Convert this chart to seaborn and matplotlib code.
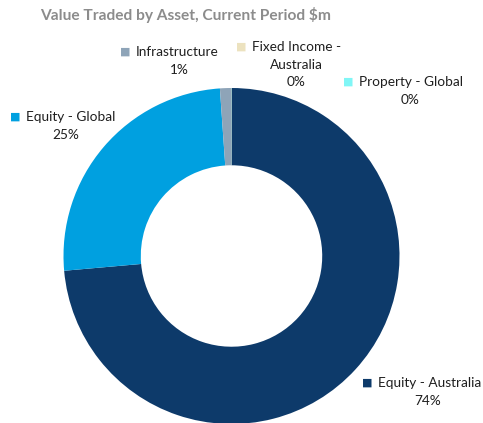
import matplotlib.pyplot as plt
import seaborn as sns

# data
assets = ["Equity - Australia", "Equity - Global", "Infrastructure",
          "Fixed Income - Australia", "Property - Global"]
shares = [73.6, 25.3, 1.05, 0.03, 0.02]
pct_labels = ["74%", "25%", "1%", "0%", "0%"]
colors = ["#0d3a6a", "#00a0e0", "#8ea4b8", "#ece2bf", "#80f6f6"]

sns.set_style("white")
plt.rcParams["font.family"] = ["Lato", "DejaVu Sans"]

W, H = 483, 423
fig = plt.figure(figsize=(W / 100, H / 100), dpi=100)

# donut centre (231, 256) px, radius 168 px
cx, cy, r = 231.5, 256, 168
ax = fig.add_axes([(cx - r) / W, (H - cy - r) / H, 2 * r / W, 2 * r / H])
ax.pie(shares, colors=colors, startangle=90, counterclock=False,
       radius=1, wedgeprops=dict(width=0.46, edgecolor="none"))
ax.set_xlim(-1, 1)
ax.set_ylim(-1, 1)
ax.set_aspect("equal")
ax.axis("off")


def px(x, y):
    return x / W, 1 - y / H


fig.text(*px(40, 15), "Value Traded by Asset, Current Period $m",
         fontsize=11.2, fontweight="bold", color="#8c8c8c", va="center", ha="left")

# label layout: (marker x, first line y, name lines, centre x of following lines)
label_pos = {
    "Equity - Australia": (367, 383, ["Equity - Australia"], 428),
    "Equity - Global": (15, 117, ["Equity - Global"], 66),
    "Infrastructure": (125, 52, ["Infrastructure"], 179),
    "Fixed Income - Australia": (241, 47, ["Fixed Income -", "Australia"], 296),
    "Property - Global": (348, 82, ["Property - Global"], 410),
}
line_h = 17.5
for name, pct, col in zip(assets, pct_labels, colors):
    mx, my, lines, ccx = label_pos[name]
    fig.text(*px(mx, my), "■", color=col, fontsize=8, ha="center", va="center",
             family=["DejaVu Sans"])
    fig.text(*px(mx + 11, my), lines[0], fontsize=9.8, color="#1f1f1f",
             ha="left", va="center")
    rest = lines[1:] + [pct]
    for i, t in enumerate(rest):
        fig.text(*px(ccx, my + line_h * (i + 1)), t, fontsize=9.8, color="#1f1f1f",
                 ha="center", va="center")

fig.savefig("out.png", dpi=100)
plt.close()
